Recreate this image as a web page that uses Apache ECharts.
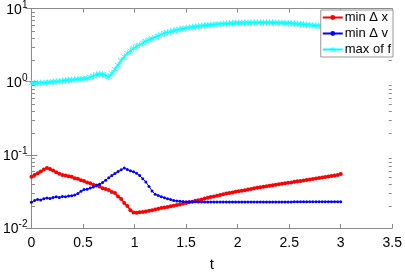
<!DOCTYPE html>
<html>
<head>
<meta charset="utf-8">
<script src="https://cdn.jsdelivr.net/npm/echarts@6/dist/echarts.min.js"></script>
<style>
html,body{margin:0;padding:0;background:#fff;}
#chart{width:405px;height:277px;}
</style>
</head>
<body>
<div id="chart"></div>
<script>
const tValues = [0,0.03,0.06,0.09,0.12,0.15,0.18,0.21,0.24,0.27,
0.30,0.33,0.36,0.39,0.42,0.45,0.48,0.51,0.54,0.57,
0.60,0.63,0.66,0.69,0.72,0.75,0.78,0.81,0.84,0.87,
0.90,0.93,0.96,0.99,1.02,1.05,1.08,1.11,1.14,1.17,
1.20,1.23,1.26,1.29,1.32,1.35,1.38,1.41,1.44,1.47,
1.50,1.53,1.56,1.59,1.62,1.65,1.68,1.71,1.74,1.77,
1.80,1.83,1.86,1.89,1.92,1.95,1.98,2.01,2.04,2.07,
2.10,2.13,2.16,2.19,2.22,2.25,2.28,2.31,2.34,2.37,
2.40,2.43,2.46,2.49,2.52,2.55,2.58,2.61,2.64,2.67,
2.70,2.73,2.76,2.79,2.82,2.85,2.88,2.91,2.94,2.97,3.00];

const minDx = [0.050,0.053,0.056,0.059,0.063,0.066,0.064,0.061,0.058,0.055,
0.053,0.052,0.051,0.050,0.048,0.047,0.045,0.044,0.042,0.041,
0.039,0.038,0.037,0.035,0.034,0.033,0.031,0.030,0.027,0.025,
0.022,0.020,0.0175,0.0163,0.0162,0.0164,0.0166,0.0168,0.0172,0.0175,
0.0179,0.0183,0.0187,0.0190,0.0194,0.0198,0.0202,0.0206,0.0210,0.0215,
0.0219,0.0224,0.0229,0.0235,0.0240,0.0246,0.0253,0.0259,0.0265,0.0270,
0.0276,0.0283,0.0290,0.0296,0.0301,0.0306,0.0312,0.0318,0.0323,0.0329,
0.0335,0.0342,0.0348,0.0354,0.0360,0.0366,0.0371,0.0377,0.0383,0.0389,
0.0396,0.0402,0.0408,0.0414,0.0420,0.0427,0.0434,0.0440,0.0447,0.0454,
0.0460,0.0467,0.0474,0.0481,0.0489,0.0496,0.0504,0.0512,0.0520,0.0531,0.0545];

const minDv = [0.0224,0.0238,0.0246,0.0242,0.0252,0.0258,0.0253,0.0262,0.0267,0.0262,
0.0270,0.0268,0.0274,0.0276,0.0282,0.0295,0.0318,0.0335,0.0338,0.0352,
0.0362,0.0380,0.0395,0.0420,0.0450,0.0485,0.0520,0.0555,0.0590,0.0625,
0.0660,0.0630,0.0605,0.0585,0.0560,0.0520,0.0470,0.0425,0.0370,0.0320,
0.0290,0.0278,0.0268,0.0260,0.0252,0.0245,0.0238,0.0234,0.0232,0.0230,
0.0229,0.0228,0.0228,0.0228,0.0227,0.0227,0.0227,0.0227,0.0227,0.0227,
0.0227,0.0227,0.0227,0.0227,0.0227,0.0227,0.0227,0.0227,0.0227,0.0227,
0.0227,0.0227,0.0227,0.0227,0.0227,0.0227,0.0227,0.0227,0.0227,0.0227,
0.0227,0.0227,0.0227,0.0227,0.0227,0.0228,0.0228,0.0228,0.0228,0.0228,
0.0228,0.0228,0.0228,0.0228,0.0229,0.0229,0.0229,0.0229,0.0229,0.0229,0.0229];

const maxF = [0.95,0.955,0.96,0.965,0.97,0.975,0.985,0.995,1.005,1.015,
1.03,1.04,1.05,1.06,1.07,1.08,1.09,1.10,1.12,1.15,
1.20,1.25,1.27,1.26,1.22,1.16,1.30,1.48,1.68,1.95,
2.2,2.45,2.65,2.85,3.05,3.2,3.4,3.55,3.75,3.9,
4.05,4.25,4.4,4.6,4.7,4.85,4.95,5.08,5.2,5.3,
5.4,5.5,5.58,5.65,5.72,5.8,5.86,5.92,5.98,6.04,
6.1,6.15,6.2,6.23,6.27,6.3,6.33,6.35,6.37,6.39,
6.4,6.42,6.43,6.44,6.45,6.45,6.45,6.44,6.43,6.41,
6.39,6.36,6.33,6.3,6.26,6.22,6.17,6.12,6.07,6.01,
5.95,5.89,5.83,5.77,5.72,5.67,5.62,5.57,5.52,5.48,5.45];

const seriesNames = ['min \u0394 x', 'min \u0394 v', 'max of f'];
const minorTickMultipliers = [2,3,4,5,6,7,8,9];
const decades = [0.01, 0.1, 1];

const minorVals = [];
decades.forEach(d => minorTickMultipliers.forEach(m => minorVals.push([1, d * m])));

const pair = (arr) => tValues.map((t, i) => [t, arr[i]]);

const asterisk = 'path://M9,0H11V20H9Z M1.3,4.6L2.3,2.9L18.7,15.4L17.7,17.1Z M1.3,15.4L2.3,17.1L18.7,4.6L17.7,2.9Z';

const font = 'Liberation Sans, Arial, Helvetica, sans-serif';
const axisGray = '#8a8a8a';

const chart = echarts.init(document.getElementById('chart'), null, {renderer: 'canvas'});
chart.setOption({
  animation: false,
  backgroundColor: '#fff',
  textStyle: {fontFamily: font},
  grid: {left: 31, right: 11, top: 8, bottom: 40, containLabel: false},
  legend: {
    orient: 'vertical', right: 12, top: 10, z: 20,
    backgroundColor: '#fff', borderColor: '#999', borderWidth: 1, borderRadius: 0,
    padding: [1, 2, 1, 1], itemGap: 3, itemWidth: 20, itemHeight: 6,
    textStyle: {fontSize: 13, color: '#000', fontFamily: font, padding: [0, 0, 0, -3]},
    data: seriesNames
  },
  xAxis: [{
    type: 'value', min: 0, max: 3.5, interval: 0.5, position: 'bottom',
    name: 't', nameLocation: 'middle', nameGap: 29,
    nameTextStyle: {fontSize: 15, color: '#000', fontFamily: font},
    axisLine: {show: true, lineStyle: {color: axisGray, width: 1}},
    axisTick: {show: true, inside: true, length: 4, lineStyle: {color: axisGray}},
    axisLabel: {fontSize: 14, color: '#000', margin: 8, fontFamily: font,
      formatter: v => String(v)},
    splitLine: {show: false}
  }, {
    type: 'value', min: 0, max: 3.5, interval: 0.5, position: 'top',
    axisLine: {show: true, lineStyle: {color: axisGray, width: 1}},
    axisTick: {show: true, inside: true, length: 4, lineStyle: {color: axisGray}},
    axisLabel: {show: false}, splitLine: {show: false}
  }],
  yAxis: [{
    type: 'log', logBase: 10, min: 0.01, max: 10, position: 'left',
    axisLine: {show: true, lineStyle: {color: axisGray, width: 1}},
    axisTick: {show: true, inside: true, length: 6, lineStyle: {color: axisGray}},
    axisLabel: {
      margin: 4, color: '#000', fontFamily: font,
      formatter: v => '{b|10}{s|' + Math.round(Math.log10(v)) + '}',
      rich: {
        b: {fontSize: 14, color: '#000', fontFamily: font, verticalAlign: 'bottom'},
        s: {fontSize: 10, color: '#000', fontFamily: font, verticalAlign: 'top', padding: [0, 0, 7, 0]}
      }
    },
    splitLine: {show: false}
  }, {
    type: 'log', logBase: 10, min: 0.01, max: 10, position: 'right',
    axisLine: {show: true, lineStyle: {color: axisGray, width: 1}},
    axisTick: {show: true, inside: true, length: 6, lineStyle: {color: axisGray}},
    axisLabel: {show: false}, splitLine: {show: false}
  }],
  series: [{
    name: 'minorTicks', type: 'custom', data: minorVals, silent: true, z: 1, clip: false,
    xAxisIndex: 0, yAxisIndex: 0,
    renderItem: (params, api) => {
      const v = api.value(1);
      const y = Math.round(api.coord([1, v])[1]) + 0.5;
      const cs = params.coordSys;
      const xl = cs.x + 0.5;
      const xr = cs.x + cs.width - 0.5;
      return {type: 'group', children: [
        {type: 'line', shape: {x1: xl, y1: y, x2: xl + 3, y2: y}, style: {stroke: axisGray, lineWidth: 1}},
        {type: 'line', shape: {x1: xr - 3, y1: y, x2: xr, y2: y}, style: {stroke: axisGray, lineWidth: 1}}
      ]};
    }
  }, {
    name: seriesNames[0], type: 'line', data: pair(minDx),
    color: '#ff0000', lineStyle: {width: 1.5, color: '#ff0000'},
    symbol: 'circle', symbolSize: 4, itemStyle: {color: '#ff0000'}, z: 3
  }, {
    name: seriesNames[1], type: 'line', data: pair(minDv),
    color: '#0000ff', lineStyle: {width: 1, color: '#0000ff'},
    symbol: 'circle', symbolSize: 3, itemStyle: {color: '#0000ff'}, z: 4
  }, {
    name: seriesNames[2], type: 'line', data: pair(maxF),
    color: '#00ffff', lineStyle: {width: 1.2, color: '#00ffff'},
    symbol: asterisk, symbolSize: 6.5, itemStyle: {color: '#00ffff'}, z: 2
  }]
});
</script>
</body>
</html>
